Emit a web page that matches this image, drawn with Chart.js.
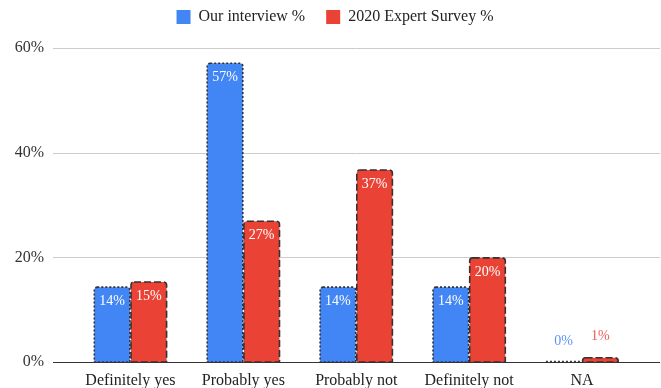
<!DOCTYPE html>
<html>
<head>
<meta charset="utf-8">
<script src="https://cdn.jsdelivr.net/npm/chart.js@4/dist/chart.umd.min.js"></script>
<style>
  html, body { margin: 0; padding: 0; background: #fff; }
  #wrap { width: 661px; height: 388px; }
</style>
</head>
<body>
<div id="wrap"><canvas id="surveyChart" width="661" height="388"></canvas></div>
<script>
// answer categories and the share of each answer (percent)
const answers = ['Definitely yes', 'Probably yes', 'Probably not', 'Definitely not', 'NA'];
const interviewPct = [14.3, 57.1, 14.3, 14.3, 0];
const expertPct = [15.3, 26.9, 36.7, 19.9, 0.8];
const yTicks = [0, 20, 40, 60];

const SERIF = "'Liberation Serif', 'Times New Roman', serif";
const BLUE = '#4285f4';
const RED = '#ea4335';

// keep the legend block at a fixed height so the plot starts lower
const legendHeight = {
    id: 'legendHeight',
    beforeLayout(chart) {
        const lg = chart.legend;
        if (lg && !lg._fixedHeight) {
            const fit = lg.fit.bind(lg);
            lg.fit = function () { fit(); this.height = 48; };
            lg._fixedHeight = true;
        }
    }
};

// gridlines run a bit wider than the bar area
const gridLines = {
    id: 'gridLines',
    beforeDatasetsDraw(chart) {
        const { ctx, chartArea, scales } = chart;
        const left = chartArea.left - 21;
        const right = chartArea.right + 21.5;
        ctx.save();
        yTicks.forEach(v => {
            const y = Math.round(scales.y.getPixelForValue(v)) + 0.5;
            ctx.strokeStyle = v === 0 ? '#333333' : '#cccccc';
            ctx.lineWidth = 1;
            ctx.beginPath();
            ctx.moveTo(left, y);
            ctx.lineTo(right, y);
            ctx.stroke();
        });
        ctx.restore();
    }
};

// dotted / dashed outlines around the bars
const barOutlines = {
    id: 'barOutlines',
    afterDatasetsDraw(chart) {
        const ctx = chart.ctx;
        ctx.save();
        chart.data.datasets.forEach((ds, i) => {
            const meta = chart.getDatasetMeta(i);
            ctx.strokeStyle = '#333333';
            ctx.lineWidth = 1.6;
            ctx.setLineDash(ds.outlineDash);
            meta.data.forEach(bar => {
                const { x, y, base, width } = bar.getProps(['x', 'y', 'base', 'width'], true);
                const h = base - y;
                ctx.beginPath();
                if (h > 4) {
                    ctx.roundRect(x - width / 2, y, width, h, [3, 3, 0, 0]);
                } else {
                    ctx.moveTo(x - width / 2, y - 0.5);
                    ctx.lineTo(x + width / 2, y - 0.5);
                }
                ctx.stroke();
            });
        });
        ctx.restore();
    }
};

// percentage labels: inside tall bars, above short ones
const valueLabels = {
    id: 'valueLabels',
    afterDatasetsDraw(chart) {
        const ctx = chart.ctx;
        ctx.save();
        ctx.font = '14px ' + SERIF;
        ctx.textAlign = 'center';
        ctx.textBaseline = 'middle';
        chart.data.datasets.forEach((ds, i) => {
            const meta = chart.getDatasetMeta(i);
            meta.data.forEach((bar, j) => {
                const { x, y, base } = bar.getProps(['x', 'y', 'base'], true);
                const text = Math.round(ds.data[j]) + '%';
                if (base - y > 24) {
                    ctx.fillStyle = '#ffffff';
                    ctx.fillText(text, x, y + 14);
                } else {
                    ctx.fillStyle = ds.labelColor;
                    ctx.fillText(text, x, y - 21);
                }
            });
        });
        ctx.restore();
    }
};

const ctx = document.getElementById('surveyChart').getContext('2d');
const surveyChart = new Chart(ctx, {
    type: 'bar',
    data: {
        labels: answers,
        datasets: [
            {
                label: 'Our interview %',
                data: interviewPct,
                backgroundColor: BLUE,
                borderWidth: 0,
                borderRadius: { topLeft: 3, topRight: 3 },
                outlineDash: [2, 2],
                labelColor: '#5b96f5'
            },
            {
                label: '2020 Expert Survey %',
                data: expertPct,
                backgroundColor: RED,
                borderWidth: 0,
                borderRadius: { topLeft: 3, topRight: 3 },
                outlineDash: [7, 3],
                labelColor: '#ee5f53'
            }
        ]
    },
    options: {
        responsive: false,
        animation: false,
        categoryPercentage: 0.65,
        barPercentage: 0.97,
        layout: { padding: { left: 9, right: 0, top: 0, bottom: 0 } },
        plugins: {
            legend: {
                position: 'top',
                labels: {
                    boxWidth: 14,
                    boxHeight: 14,
                    padding: 9,
                    color: '#222222',
                    font: { family: SERIF, size: 16 },
                    generateLabels(chart) {
                        const items = Chart.defaults.plugins.legend.labels.generateLabels(chart);
                        // wider gap after the first entry
                        items.forEach((it, i) => { if (i < items.length - 1) it.text += '   '; });
                        return items;
                    }
                }
            },
            tooltip: { enabled: false }
        },
        scales: {
            x: {
                grid: { display: false, drawTicks: false },
                border: { display: false },
                ticks: { color: '#222222', padding: 9.5, font: { family: SERIF, size: 16 } },
                afterFit: s => {
                    s.height = 26;
                    s.paddingLeft = 0;
                    s.paddingRight = 22.5;
                }
            },
            y: {
                min: 0,
                max: 60,
                grid: { display: false, drawTicks: false },
                border: { display: false },
                ticks: {
                    stepSize: 20,
                    padding: 30,
                    color: '#333333',
                    font: { family: SERIF, size: 16 },
                    callback: v => v + '%'
                },
                afterFit: s => {
                    s.width = 65;
                    s.paddingTop = 0;
                    s.paddingBottom = 0;
                }
            }
        }
    },
    plugins: [legendHeight, gridLines, barOutlines, valueLabels]
});
</script>
</body>
</html>
